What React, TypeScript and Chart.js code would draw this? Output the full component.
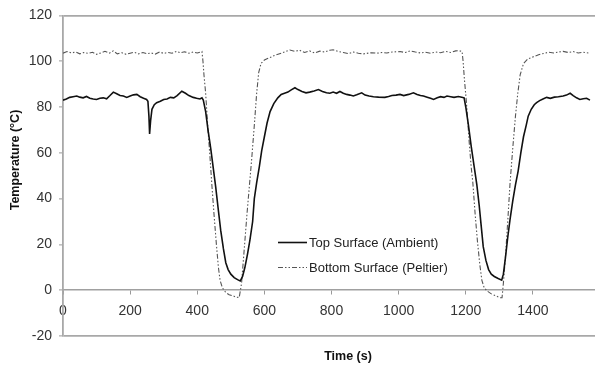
import { useEffect, useRef } from "react";
import { Chart, registerables } from "chart.js";

Chart.register(...registerables);

const topTime = [
  0, 10, 20, 30, 41, 50, 60, 70, 80, 90, 100, 110, 120, 130, 140, 150, 160, 170, 180, 190,
  200, 210, 220, 230, 240, 249, 253, 256, 258, 261, 265, 272, 279, 290, 300, 310, 320, 330, 340, 354,
  365, 375, 388, 398, 408, 414, 418, 425, 432, 440, 448, 455, 462, 470, 478, 485, 492, 500, 510, 520,
  528, 535, 542, 550, 557, 565, 570, 577, 585, 592, 600, 608, 617, 628, 640, 650, 660, 670, 680, 691,
  700, 712, 724, 735, 748, 761, 773, 785, 795, 805, 815, 825, 835, 845, 855, 865, 875, 890, 900, 912,
  925, 940, 959, 970, 980, 992, 1004, 1015, 1030, 1044, 1055, 1065, 1074, 1085, 1095, 1104, 1115, 1125, 1135, 1144,
  1155, 1165, 1178, 1188, 1195, 1200, 1208, 1216, 1225, 1233, 1240, 1246, 1252, 1260, 1268, 1276, 1285, 1295, 1307, 1312,
  1318, 1325, 1332, 1340, 1348, 1356, 1364, 1372, 1380, 1386, 1395, 1404, 1411, 1420, 1430, 1441, 1452, 1464, 1476, 1490,
  1500, 1511, 1520, 1530, 1540, 1550, 1560, 1570,
];
const topTemp = [
  83.0, 83.5, 84.2, 84.5, 84.8, 84.3, 84.0, 84.6, 83.8, 83.5, 83.3, 83.8, 84.0, 83.6, 85.0, 86.5, 85.8, 85.0, 84.8, 84.2,
  84.8, 85.3, 85.5, 84.5, 83.8, 83.3, 82.5, 76, 68.2, 74, 79, 81, 81.9, 82.5, 83.3, 83.5, 84.2, 84.0, 85.0, 86.9,
  86.0, 85.0, 84.2, 83.8, 83.5, 84, 83, 78, 70, 62, 53, 45, 36, 26, 18, 12, 9, 7, 5.5, 4.6,
  4.0, 6, 10, 16, 22, 30, 40, 47, 54, 61, 67, 73, 78, 81.5, 84, 85.5, 86, 86.5, 87.5, 88.4,
  87.6, 86.8, 86.2, 86.5, 87.0, 87.6, 86.8, 86.2, 86.0, 86.5, 86.0, 86.8, 86.0, 85.5, 85.2, 84.8, 85.3, 86.2, 85.2, 84.8,
  84.5, 84.3, 84.2, 84.6, 85.0, 85.2, 85.5, 85.0, 85.5, 86.2, 85.5, 85.0, 84.8, 84.3, 83.8, 83.3, 84.0, 84.5, 84.2, 84.8,
  84.5, 84.2, 84.6, 84.3, 84.0, 80, 72, 63, 54, 46, 37, 28, 19, 13, 9, 7, 6, 5.2, 4.4, 7,
  14, 23, 31, 39, 46, 52, 60, 67, 72, 76, 79, 81, 81.9, 82.8, 83.5, 84.2, 83.8, 84.3, 84.5, 84.8,
  85.2, 86.0, 85.0, 84.0, 83.3, 83.6, 83.8, 83.0,
];

const bottomTime = [
  0, 12, 25, 38, 50, 62, 75, 88, 100, 112, 125, 138, 150, 162, 175, 188, 200, 212, 225, 238,
  250, 262, 275, 288, 300, 312, 325, 338, 350, 362, 375, 388, 400, 410, 414, 417, 420, 425, 432, 438,
  443, 450, 457, 463, 468, 475, 485, 495, 507, 515, 525, 532, 540, 548, 555, 562, 570, 577, 583, 590,
  600, 615, 630, 650, 676, 690, 705, 720, 735, 750, 765, 780, 795, 805, 820, 835, 850, 865, 880, 895,
  904, 920, 935, 950, 965, 980, 1004, 1020, 1035, 1050, 1065, 1080, 1095, 1110, 1125, 1140, 1155, 1170, 1180, 1189,
  1192, 1196, 1202, 1210, 1216, 1221, 1228, 1235, 1242, 1248, 1255, 1265, 1275, 1290, 1302, 1308, 1312, 1318, 1325, 1332,
  1340, 1348, 1355, 1362, 1372, 1385, 1402, 1417, 1432, 1447, 1462, 1476, 1490, 1505, 1520, 1535, 1550, 1570,
];
const bottomTemp = [
  103.5, 104.2, 103.6, 104.0, 103.2, 103.8, 103.4, 103.9, 103.0, 103.6, 104.3, 103.5, 104.5, 103.2, 103.7, 103.0, 103.5, 103.9, 103.2, 103.8,
  103.3, 103.6, 103.1, 104.0, 103.4, 103.8, 103.5, 104.3, 103.7, 104.1, 103.5, 104.0, 103.6, 104.0, 104.2, 100, 94, 86, 70, 58,
  47, 33, 20, 10, 4.3, 1, -1, -2, -2.5, -3, -3.2, 3, 18, 33, 45, 57, 72, 86, 95, 99,
  100.5, 101.5, 102.5, 103.5, 104.9, 104.3, 104.8, 103.8, 104.5, 103.6, 104.4, 104.0, 104.8, 105.0, 104.2, 103.8, 103.3, 104.0, 103.5, 103.2,
  103.4, 103.7, 103.5, 103.8, 103.6, 104.0, 104.2, 103.8, 104.5, 104.0, 103.6, 103.9, 103.5, 104.0, 103.7, 104.3, 103.8, 104.5, 104.6, 104.2,
  100, 92, 82, 65, 54, 47, 33, 21, 11, 4.3, 1, -0.5, -1.5, -2.5, -3.3, -3.3, 3, 14, 30, 47,
  62, 76, 86, 94, 99, 101, 102, 102.8, 103.4, 103.9, 103.6, 104.0, 104.3, 103.8, 104.2, 103.6, 103.9, 103.5,
];

const xTickValues = [0, 200, 400, 600, 800, 1000, 1200, 1400];
const seriesNames = ["Top Surface (Ambient)", "Bottom Surface (Peltier)"];
const yAxisTitle = "Temperature (°C)";
const xAxisTitle = "Time (s)";

const FONT = "'Liberation Sans', Arial, sans-serif";

const overlayPlugin = {
  id: "overlay",
  afterDraw(chart: any) {
    const ctx = chart.ctx;
    ctx.save();
    ctx.fillStyle = "#111";
    ctx.font = `bold 12.5px ${FONT}`;
    ctx.textAlign = "center";
    ctx.textBaseline = "middle";
    // y title
    ctx.save();
    ctx.translate(16, 160);
    ctx.rotate(-Math.PI / 2);
    ctx.fillText(yAxisTitle, 0, 0);
    ctx.restore();
    // x title
    ctx.fillText(xAxisTitle, 348, 357);

    // legend
    const lx = 278;
    const rows = [242.5, 267.5];
    ctx.font = `13px ${FONT}`;
    ctx.textAlign = "left";
    chart.data.datasets.forEach((ds: any, i: number) => {
      const y = rows[i];
      ctx.beginPath();
      ctx.strokeStyle = ds.borderColor;
      ctx.lineWidth = ds.borderWidth;
      ctx.setLineDash(ds.borderDash || []);
      ctx.moveTo(lx, y);
      ctx.lineTo(lx + 29, y);
      ctx.stroke();
      ctx.setLineDash([]);
      ctx.fillStyle = "#222";
      ctx.fillText(ds.label, lx + 31, y + 1);
    });
    ctx.restore();
  },
};

export default function App() {
  const ref = useRef<HTMLCanvasElement>(null);
  useEffect(() => {
    document.body.style.margin = "0";
    const topData = topTime.map((t, i) => ({ x: t, y: topTemp[i] }));
    const bottomData = bottomTime.map((t, i) => ({ x: t, y: bottomTemp[i] }));
    const chart = new Chart(ref.current!, {
      type: "line",
      data: {
        datasets: [
          {
            label: seriesNames[0],
            data: topData,
            borderColor: "#111",
            borderWidth: 1.6,
            pointRadius: 0,
            tension: 0,
          },
          {
            label: seriesNames[1],
            data: bottomData,
            borderColor: "#555",
            borderWidth: 1.1,
            borderDash: [5, 2, 1.5, 2, 1.5, 2],
            pointRadius: 0,
            tension: 0,
          },
        ],
      },
      plugins: [overlayPlugin],
      options: {
        animation: false,
        responsive: false,
        maintainAspectRatio: false,
        events: [],
        layout: { padding: { top: 11, right: 0, bottom: 32, left: 0 } },
        plugins: { legend: { display: false }, tooltip: { enabled: false } },
        scales: {
          x: {
            type: "linear",
            position: { y: 0 } as any,
            min: 0,
            max: 1585,
            afterFit: (s: any) => {
              s.height = 0;
            },
            afterBuildTicks: (s: any) => {
              s.ticks = xTickValues.map((v) => ({ value: v }));
            },
            ticks: {
              font: { family: FONT, size: 14 },
              color: "#333",
              padding: 9,
              maxRotation: 0,
              autoSkip: false,
              callback: (v: any) => String(v),
            },
            grid: {
              drawOnChartArea: false,
              drawTicks: true,
              tickLength: 4,
              color: "#999",
            },
            border: { display: true, color: "#a0a0a0", width: 1.5 },
          },
          y: {
            type: "linear",
            position: "left",
            min: -20,
            max: 120,
            afterFit: (s: any) => {
              s.width = 63;
            },
            ticks: {
              stepSize: 20,
              font: { family: FONT, size: 14 },
              color: "#333",
              padding: 7,
              callback: (v: any) => String(v),
            },
            grid: {
              color: (c: any) =>
                c.tick && (c.tick.value === 120 || c.tick.value === -20) ? "#a8a8a8" : "rgba(0,0,0,0)",
              lineWidth: 1.8,
              tickColor: "#999",
              tickWidth: 1,
              tickLength: 4,
            },
            border: { display: true, color: "#a8a8a8", width: 1.8 },
          },
        },
      },
    });
    return () => chart.destroy();
  }, []);
  return <canvas ref={ref} width={595} height={368} style={{ display: "block" }} />;
}
